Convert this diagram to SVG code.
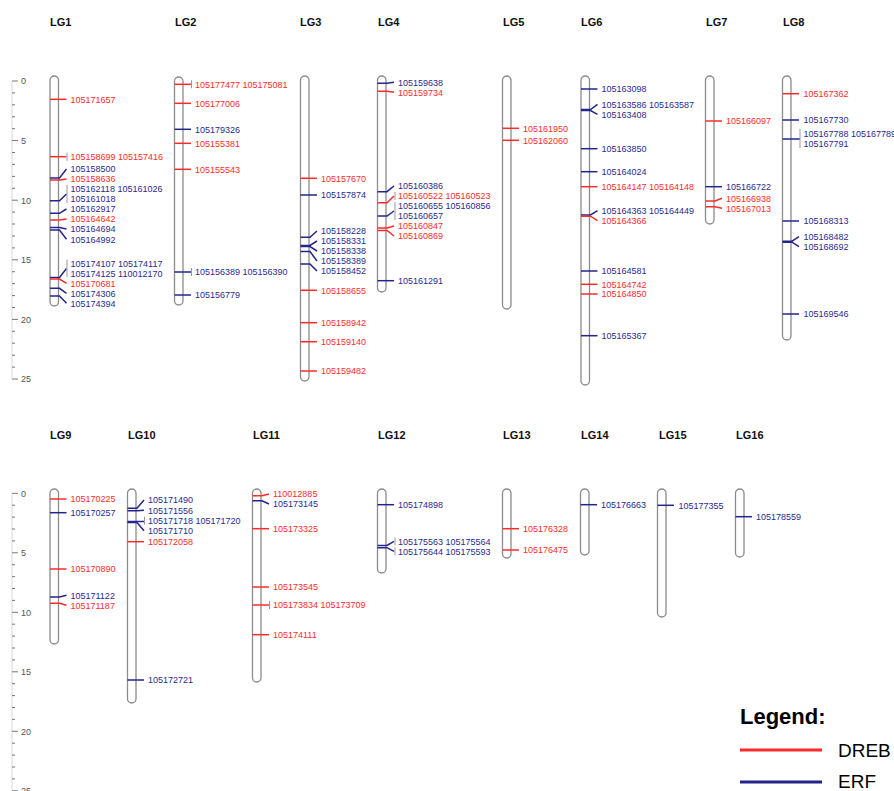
<svg xmlns="http://www.w3.org/2000/svg" width="894" height="791" viewBox="0 0 894 791">
<style>
.chr{fill:#fff;stroke:#8c8c8c;stroke-width:1.3}
.r{stroke:#ff2b2b;stroke-width:1.5;fill:none}
.b{stroke:#24248c;stroke-width:1.5;fill:none}
.bar{stroke:#999;stroke-width:1;fill:none}
text{font-family:"Liberation Sans",Arial,sans-serif;font-size:9px}
.tr{fill:#ff2b2b}
.tb{fill:#2a2a8e}
.ttl{font-size:11px;font-weight:bold;fill:#111}
.ax{stroke:#777;stroke-width:1;fill:none}
.axl{stroke:#d8d8d8;stroke-width:1;fill:none}
.axt{fill:#555;font-size:9px}
</style>
<rect width="894" height="791" fill="#fff"/>
<g id="axis-top">
<path class="axl" d="M12 81V379"/>
<path class="ax" d="M12 81h6M12 140.6h6M12 200.2h6M12 259.8h6M12 319.4h6M12 379h6"/>
<path class="ax" d="M12 92.9h3M12 104.8h3M12 116.8h3M12 128.7h3M12 152.5h3M12 164.4h3M12 176.4h3M12 188.3h3M12 212.1h3M12 224h3M12 236h3M12 247.9h3M12 271.7h3M12 283.6h3M12 295.6h3M12 307.5h3M12 331.3h3M12 343.2h3M12 355.2h3M12 367.1h3"/>
<text class="axt" x="21" y="84.3">0</text>
<text class="axt" x="21" y="143.9">5</text>
<text class="axt" x="21" y="203.5">10</text>
<text class="axt" x="21" y="263.1">15</text>
<text class="axt" x="21" y="322.7">20</text>
<text class="axt" x="21" y="382.3">25</text>
</g>
<g id="axis-bottom">
<path class="axl" d="M12 493.3V790.8"/>
<path class="ax" d="M12 493.3h6M12 552.8h6M12 612.3h6M12 671.8h6M12 731.3h6M12 790.8h6"/>
<path class="ax" d="M12 505.2h3M12 517.1h3M12 529h3M12 540.9h3M12 564.7h3M12 576.6h3M12 588.5h3M12 600.4h3M12 624.2h3M12 636.1h3M12 648h3M12 659.9h3M12 683.7h3M12 695.6h3M12 707.5h3M12 719.4h3M12 743.2h3M12 755.1h3M12 767h3M12 778.9h3"/>
<text class="axt" x="21" y="496.6">0</text>
<text class="axt" x="21" y="556.1">5</text>
<text class="axt" x="21" y="615.6">10</text>
<text class="axt" x="21" y="675.1">15</text>
<text class="axt" x="21" y="734.6">20</text>
<text class="axt" x="21" y="794.1">25</text>
</g>

<g id="LG1">
<text class="ttl" x="50" y="26">LG1</text>
<rect class="chr" x="50" y="76" width="8.5" height="230" rx="4.25"/>
<path class="r" d="M50 99.3H66.5"/><text class="tr" x="70.5" y="102.5">105171657</text>
<path class="r" d="M50 156.7H66.5"/><path class="bar" d="M67 152.7V160.7"/><text class="tr" x="70.5" y="159.9">105158699 105157416</text>
<path class="b" d="M50 178H59.5L66.5 169"/><text class="tb" x="70.5" y="172.2">105158500</text>
<path class="r" d="M50 180H59.5L66.5 179"/><text class="tr" x="70.5" y="182.2">105158636</text>
<path class="b" d="M50 200.7H59.5L66.5 194"/><path class="bar" d="M67 185V203"/><text class="tb" x="70.5" y="192.2">105162118 105161026</text><text class="tb" x="70.5" y="202.2">105161018</text>
<path class="b" d="M50 213.3H59.5L66.5 209"/><text class="tb" x="70.5" y="212.2">105162917</text>
<path class="r" d="M50 220H59.5L66.5 219"/><text class="tr" x="70.5" y="222.2">105164642</text>
<path class="b" d="M50 227.5H59.5L66.5 229"/><text class="tb" x="70.5" y="232.2">105164694</text>
<path class="b" d="M50 230H59.5L66.5 239.3"/><text class="tb" x="70.5" y="242.5">105164992</text>
<path class="b" d="M50 277.5H59.5L66.5 268.5"/><path class="bar" d="M67 259.5V277"/><text class="tb" x="70.5" y="266.5">105174107 105174117</text><text class="tb" x="70.5" y="276.5">105174125 110012170</text>
<path class="r" d="M50 279H59.5L66.5 283.3"/><text class="tr" x="70.5" y="286.5">105170681</text>
<path class="b" d="M50 288.3H59.5L66.5 293.3"/><text class="tb" x="70.5" y="296.5">105174306</text>
<path class="b" d="M50 296H59.5L66.5 303.3"/><text class="tb" x="70.5" y="306.5">105174394</text>
</g>

<g id="LG2">
<text class="ttl" x="175" y="26">LG2</text>
<rect class="chr" x="174.5" y="77" width="8.5" height="228" rx="4.25"/>
<path class="r" d="M174.5 84.3H191"/><path class="bar" d="M191.5 80.3V88.3"/><text class="tr" x="195" y="87.5">105177477 105175081</text>
<path class="r" d="M174.5 103.3H191"/><text class="tr" x="195" y="106.5">105177006</text>
<path class="b" d="M174.5 129.3H191"/><text class="tb" x="195" y="132.5">105179326</text>
<path class="r" d="M174.5 143.3H191"/><text class="tr" x="195" y="146.5">105155381</text>
<path class="r" d="M174.5 169.3H191"/><text class="tr" x="195" y="172.5">105155543</text>
<path class="b" d="M174.5 272H191"/><path class="bar" d="M191.5 268V276"/><text class="tb" x="195" y="275.2">105156389 105156390</text>
<path class="b" d="M174.5 295H191"/><text class="tb" x="195" y="298.2">105156779</text>
</g>

<g id="LG3">
<text class="ttl" x="300" y="26">LG3</text>
<rect class="chr" x="300.5" y="76" width="8.5" height="305" rx="4.25"/>
<path class="r" d="M300.5 178.3H317"/><text class="tr" x="321" y="181.5">105157670</text>
<path class="b" d="M300.5 195H317"/><text class="tb" x="321" y="198.2">105157874</text>
<path class="b" d="M300.5 237.3H310L317 231"/><text class="tb" x="321" y="234.2">105158228</text>
<path class="b" d="M300.5 245.5H310L317 241"/><text class="tb" x="321" y="244.2">105158331</text>
<path class="b" d="M300.5 246.5H310L317 251"/><text class="tb" x="321" y="254.2">105158338</text>
<path class="b" d="M300.5 251.5H310L317 261"/><text class="tb" x="321" y="264.2">105158389</text>
<path class="b" d="M300.5 264H310L317 271"/><text class="tb" x="321" y="274.2">105158452</text>
<path class="r" d="M300.5 290.3H317"/><text class="tr" x="321" y="293.5">105158655</text>
<path class="r" d="M300.5 322.7H317"/><text class="tr" x="321" y="325.9">105158942</text>
<path class="r" d="M300.5 341.7H317"/><text class="tr" x="321" y="344.9">105159140</text>
<path class="r" d="M300.5 371H317"/><text class="tr" x="321" y="374.2">105159482</text>
</g>

<g id="LG4">
<text class="ttl" x="378" y="26">LG4</text>
<rect class="chr" x="377.5" y="76" width="8.5" height="216" rx="4.25"/>
<path class="b" d="M377.5 83.3H387L394 82.3"/><text class="tb" x="398" y="85.5">105159638</text>
<path class="r" d="M377.5 91.3H387L394 92.3"/><text class="tr" x="398" y="95.5">105159734</text>
<path class="b" d="M377.5 191.7H387L394 186"/><text class="tb" x="398" y="189.2">105160386</text>
<path class="r" d="M377.5 202.7H387L394 196"/><path class="bar" d="M395 192V200"/><text class="tr" x="398" y="199.2">105160522 105160523</text>
<path class="b" d="M377.5 216H387L394 211"/><path class="bar" d="M395 202V220"/><text class="tb" x="398" y="209.2">105160655 105160856</text><text class="tb" x="398" y="219.2">105160657</text>
<path class="r" d="M377.5 228H387L394 226"/><text class="tr" x="398" y="229.2">105160847</text>
<path class="r" d="M377.5 230.5H387L394 236"/><text class="tr" x="398" y="239.2">105160869</text>
<path class="b" d="M377.5 280.7H394"/><text class="tb" x="398" y="283.9">105161291</text>
</g>

<g id="LG5">
<text class="ttl" x="503" y="26">LG5</text>
<rect class="chr" x="502.5" y="76" width="8.5" height="233" rx="4.25"/>
<path class="r" d="M502.5 128.3H519"/><text class="tr" x="523" y="131.5">105161950</text>
<path class="r" d="M502.5 140.3H519"/><text class="tr" x="523" y="143.5">105162060</text>
</g>

<g id="LG6">
<text class="ttl" x="581" y="26">LG6</text>
<rect class="chr" x="581" y="76" width="8.5" height="309" rx="4.25"/>
<path class="b" d="M581 89H597.5"/><text class="tb" x="601.5" y="92.2">105163098</text>
<path class="b" d="M581 109.5H590.5L597.5 104.3"/><text class="tb" x="601.5" y="107.5">105163586 105163587</text>
<path class="b" d="M581 110.5H590.5L597.5 114.3"/><text class="tb" x="601.5" y="117.5">105163408</text>
<path class="b" d="M581 148.7H597.5"/><text class="tb" x="601.5" y="151.9">105163850</text>
<path class="b" d="M581 171.7H597.5"/><text class="tb" x="601.5" y="174.9">105164024</text>
<path class="r" d="M581 186.7H597.5"/><text class="tr" x="601.5" y="189.9">105164147 105164148</text>
<path class="b" d="M581 215H590.5L597.5 210.7"/><text class="tb" x="601.5" y="213.9">105164363 105164449</text>
<path class="r" d="M581 216.2H590.5L597.5 220.7"/><text class="tr" x="601.5" y="223.9">105164366</text>
<path class="b" d="M581 271H597.5"/><text class="tb" x="601.5" y="274.2">105164581</text>
<path class="r" d="M581 284.3H597.5"/><text class="tr" x="601.5" y="287.5">105164742</text>
<path class="r" d="M581 294H597.5"/><text class="tr" x="601.5" y="297.2">105164850</text>
<path class="b" d="M581 335.7H597.5"/><text class="tb" x="601.5" y="338.9">105165367</text>
</g>

<g id="LG7">
<text class="ttl" x="706" y="26">LG7</text>
<rect class="chr" x="705.5" y="76" width="8.5" height="148" rx="4.25"/>
<path class="r" d="M705.5 121H722"/><text class="tr" x="726" y="124.2">105166097</text>
<path class="b" d="M705.5 186.7H722"/><text class="tb" x="726" y="189.9">105166722</text>
<path class="r" d="M705.5 201H715L722 198.3"/><text class="tr" x="726" y="201.5">105166938</text>
<path class="r" d="M705.5 206.7H715L722 208.3"/><text class="tr" x="726" y="211.5">105167013</text>
</g>

<g id="LG8">
<text class="ttl" x="783" y="26">LG8</text>
<rect class="chr" x="782.5" y="76" width="8.5" height="264" rx="4.25"/>
<path class="r" d="M782.5 93.7H799"/><text class="tr" x="803.5" y="96.9">105167362</text>
<path class="b" d="M782.5 120H799"/><text class="tb" x="803.5" y="123.2">105167730</text>
<path class="b" d="M782.5 139H800"/><path class="bar" d="M800 129V148"/><text class="tb" x="803.5" y="136.5">105167788 105167789</text><text class="tb" x="803.5" y="146.9">105167791</text>
<path class="b" d="M782.5 221H799"/><text class="tb" x="803.5" y="224.2">105168313</text>
<path class="b" d="M782.5 241.2H792L799 236.7"/><text class="tb" x="803.5" y="239.9">105168482</text>
<path class="b" d="M782.5 242.2H792L799 246.7"/><text class="tb" x="803.5" y="249.9">105168692</text>
<path class="b" d="M782.5 314H799"/><text class="tb" x="803.5" y="317.2">105169546</text>
</g>

<g id="LG9">
<text class="ttl" x="50" y="439">LG9</text>
<rect class="chr" x="50" y="489" width="8.5" height="155" rx="4.25"/>
<path class="r" d="M50 499H66.5"/><text class="tr" x="70.5" y="502.2">105170225</text>
<path class="b" d="M50 512.7H66.5"/><text class="tb" x="70.5" y="515.9">105170257</text>
<path class="r" d="M50 569H66.5"/><text class="tr" x="70.5" y="572.2">105170890</text>
<path class="b" d="M50 597H59.5L66.5 595.3"/><text class="tb" x="70.5" y="598.5">105171122</text>
<path class="r" d="M50 603.3H59.5L66.5 605.3"/><text class="tr" x="70.5" y="608.5">105171187</text>
</g>

<g id="LG10">
<text class="ttl" x="128" y="439">LG10</text>
<rect class="chr" x="127.5" y="489" width="8.5" height="214" rx="4.25"/>
<path class="b" d="M127.5 508.3H137L144 500"/><text class="tb" x="148" y="503.2">105171490</text>
<path class="b" d="M127.5 510.7H137L144 510.3"/><text class="tb" x="148" y="513.5">105171556</text>
<path class="b" d="M127.5 521.5H144"/><path class="bar" d="M144.5 516.7V524.7"/><text class="tb" x="148" y="523.9">105171718 105171720</text>
<path class="b" d="M127.5 522.5H137L144 530.7"/><text class="tb" x="148" y="533.9">105171710</text>
<path class="r" d="M127.5 541.7H144"/><text class="tr" x="148" y="544.9">105172058</text>
<path class="b" d="M127.5 680H144"/><text class="tb" x="148" y="683.2">105172721</text>
</g>

<g id="LG11">
<text class="ttl" x="253" y="439">LG11</text>
<rect class="chr" x="252.5" y="489" width="8.5" height="193" rx="4.25"/>
<path class="r" d="M252.5 495.7H262L269 494"/><text class="tr" x="273" y="497.2">110012885</text>
<path class="b" d="M252.5 500.7H262L269 504"/><text class="tb" x="273" y="507.2">105173145</text>
<path class="r" d="M252.5 528.7H269"/><text class="tr" x="273" y="531.9">105173325</text>
<path class="r" d="M252.5 587H269"/><text class="tr" x="273" y="590.2">105173545</text>
<path class="r" d="M252.5 605H269"/><path class="bar" d="M269.5 601V609"/><text class="tr" x="273" y="608.2">105173834 105173709</text>
<path class="r" d="M252.5 634.7H269"/><text class="tr" x="273" y="637.9">105174111</text>
</g>

<g id="LG12">
<text class="ttl" x="378" y="439">LG12</text>
<rect class="chr" x="377.5" y="489" width="8.5" height="84" rx="4.25"/>
<path class="b" d="M377.5 504.7H394"/><text class="tb" x="398" y="507.9">105174898</text>
<path class="b" d="M377.5 545.5H387L394 541.3"/><path class="bar" d="M395 537.3V545.3"/><text class="tb" x="398" y="544.5">105175563 105175564</text>
<path class="b" d="M377.5 547.7H387L394 551.3"/><path class="bar" d="M395 547.3V555.3"/><text class="tb" x="398" y="554.5">105175644 105175593</text>
</g>

<g id="LG13">
<text class="ttl" x="503" y="439">LG13</text>
<rect class="chr" x="502.5" y="489" width="8.5" height="69" rx="4.25"/>
<path class="r" d="M502.5 528.7H519"/><text class="tr" x="523" y="531.9">105176328</text>
<path class="r" d="M502.5 550H519"/><text class="tr" x="523" y="553.2">105176475</text>
</g>

<g id="LG14">
<text class="ttl" x="581" y="439">LG14</text>
<rect class="chr" x="580.5" y="489" width="8.5" height="66" rx="4.25"/>
<path class="b" d="M580.5 504.7H597"/><text class="tb" x="601" y="507.9">105176663</text>
</g>

<g id="LG15">
<text class="ttl" x="659" y="439">LG15</text>
<rect class="chr" x="657.5" y="489" width="8.5" height="128" rx="4.25"/>
<path class="b" d="M657.5 505.3H674"/><text class="tb" x="678.5" y="508.5">105177355</text>
</g>

<g id="LG16">
<text class="ttl" x="736" y="439">LG16</text>
<rect class="chr" x="735.5" y="489" width="8.5" height="68" rx="4.25"/>
<path class="b" d="M735.5 516.7H752"/><text class="tb" x="756" y="519.9">105178559</text>
</g>

<g id="legend">
<text x="740" y="724" style="font-size:22px;font-weight:bold;fill:#000">Legend:</text>
<path d="M740 750H822" stroke="#ff2b2b" stroke-width="3"/>
<text x="838" y="757" style="font-size:19px;fill:#000">DREB</text>
<path d="M740 782H822" stroke="#24248c" stroke-width="3"/>
<text x="838" y="788" style="font-size:19px;fill:#000">ERF</text>
</g>
</svg>
